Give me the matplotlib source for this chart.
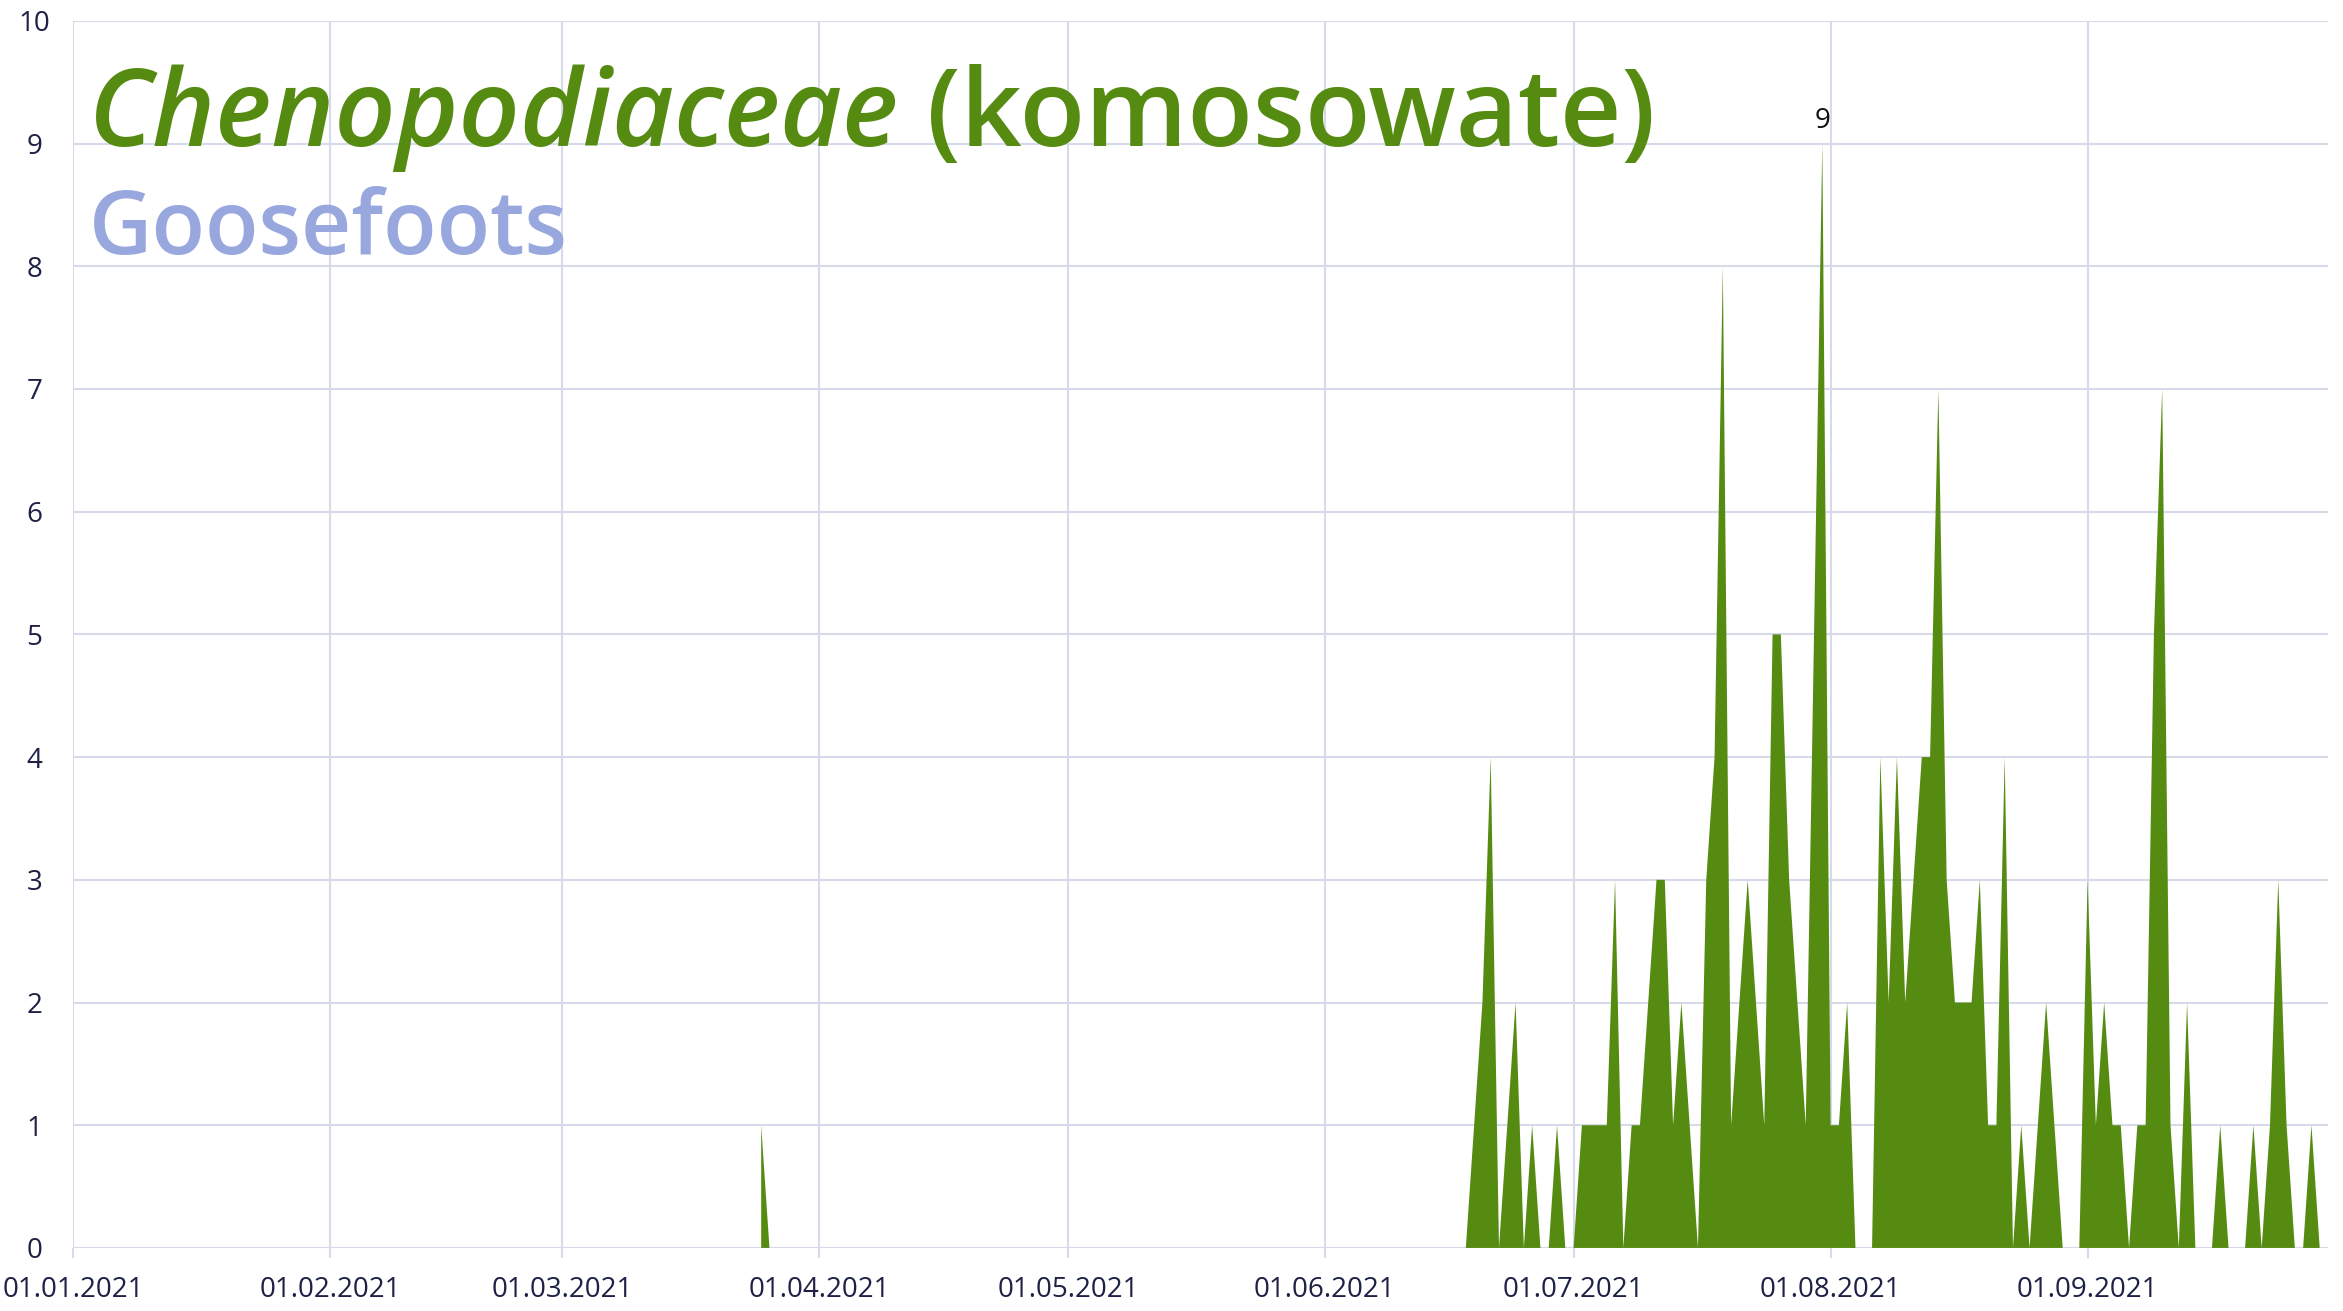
import numpy as np
import pandas as pd
import matplotlib
matplotlib.use("Agg")
import matplotlib.pyplot as plt
import matplotlib.dates as mdates

# daily pollen counts; NaN = no measurement
spring_dates = ["2021-03-25", "2021-03-26"]
spring_counts = [1, 0]

summer_start = "2021-06-18"
summer_counts = [
    0, 1, 2, 4, 0, 1, 2, 0, 1, 0,      # 18.06 - 27.06
    0, 1, 0, 0, 1, 1, 1, 1, 3, 0,      # 28.06 - 07.07
    1, 1, 2, 3, 3, 1, 2, 1, 0, 3,      # 08.07 - 17.07
    4, 8, 1, 2, 3, 2, 1, 5, 5, 3,      # 18.07 - 27.07
    2, 1, 5, 9, 1, 1, 2, 0, 0, 0,      # 28.07 - 06.08
    4, 2, 4, 2, 3, 4, 4, 7, 3, 2,      # 07.08 - 16.08
    2, 2, 3, 1, 1, 4, 0, 1, 0, 1,      # 17.08 - 26.08
    2, 1, 0, 0, 0, 3, 1, 2, 1, 1,      # 27.08 - 05.09
    0, 1, 1, 5, 7, 1, 0, 2, 0, 0,      # 06.09 - 15.09
    0, 1, 0, 0, 0, 1, 0, 1, 3, 1,      # 16.09 - 25.09
    0, 0, 1, 0,                        # 26.09 - 29.09
]

month_ticks = pd.date_range("2021-01-01", "2021-09-01", freq="MS")
y_ticks = list(range(0, 11))

title_latin = "Chenopodiaceae"
title_pl = " (komosowate)"
subtitle = "Goosefoots"

green = "#568b12"
blue = "#98a8df"
grid_c = "#d7daeb"
text_c = "#1d2145"

days = pd.date_range("2021-01-01", "2021-09-30", freq="D")
series = pd.Series(np.nan, index=days)
series[pd.to_datetime(spring_dates)] = spring_counts
summer_idx = pd.date_range(summer_start, periods=len(summer_counts), freq="D")
series[summer_idx] = summer_counts

fig = plt.figure(figsize=(23.43, 13.11), dpi=100)
ax = fig.add_axes([0.0312, 0.0481, 0.9624, 0.936])

ax.fill_between(series.index, 0, series.values, color=green, linewidth=0, zorder=3)

peak_day = series.idxmax()
ax.annotate(f"{int(series.max())}", xy=(peak_day, series.max()), xytext=(0, 6),
            textcoords="offset points", ha="center", va="bottom",
            fontsize=20, color="#111111", family="Open Sans", zorder=4)

ax.set_xlim(days[0], days[-1])
ax.set_ylim(0, 10)
ax.set_xticks(month_ticks)
ax.xaxis.set_major_formatter(mdates.DateFormatter("%d.%m.%Y"))
ax.set_yticks(y_ticks)

ax.grid(True, color=grid_c, linewidth=1.5, zorder=0)
for s in ax.spines.values():
    s.set_visible(False)
ax.tick_params(axis="x", length=7, width=1.5, color=grid_c, pad=13,
               labelsize=20, labelcolor=text_c)
ax.tick_params(axis="y", length=0, pad=28, labelsize=20, labelcolor=text_c)
for lab in ax.get_yticklabels():
    lab.set_horizontalalignment("center")
for lab in ax.get_xticklabels() + ax.get_yticklabels():
    lab.set_family("Open Sans")

t1 = fig.text(0.038, 0.889, title_latin, fontsize=77, style="italic",
              weight="semibold", color=green, family="Open Sans", va="baseline")
fig.canvas.draw()
bb = t1.get_window_extent()
fig.text(bb.x1 / fig.bbox.width, 0.889, title_pl, fontsize=77,
         weight="semibold", color=green, family="Open Sans", va="baseline")
fig.text(0.038, 0.806, subtitle, fontsize=63, weight="semibold",
         color=blue, family="Open Sans", va="baseline")

fig.savefig("out.png", dpi=100)
